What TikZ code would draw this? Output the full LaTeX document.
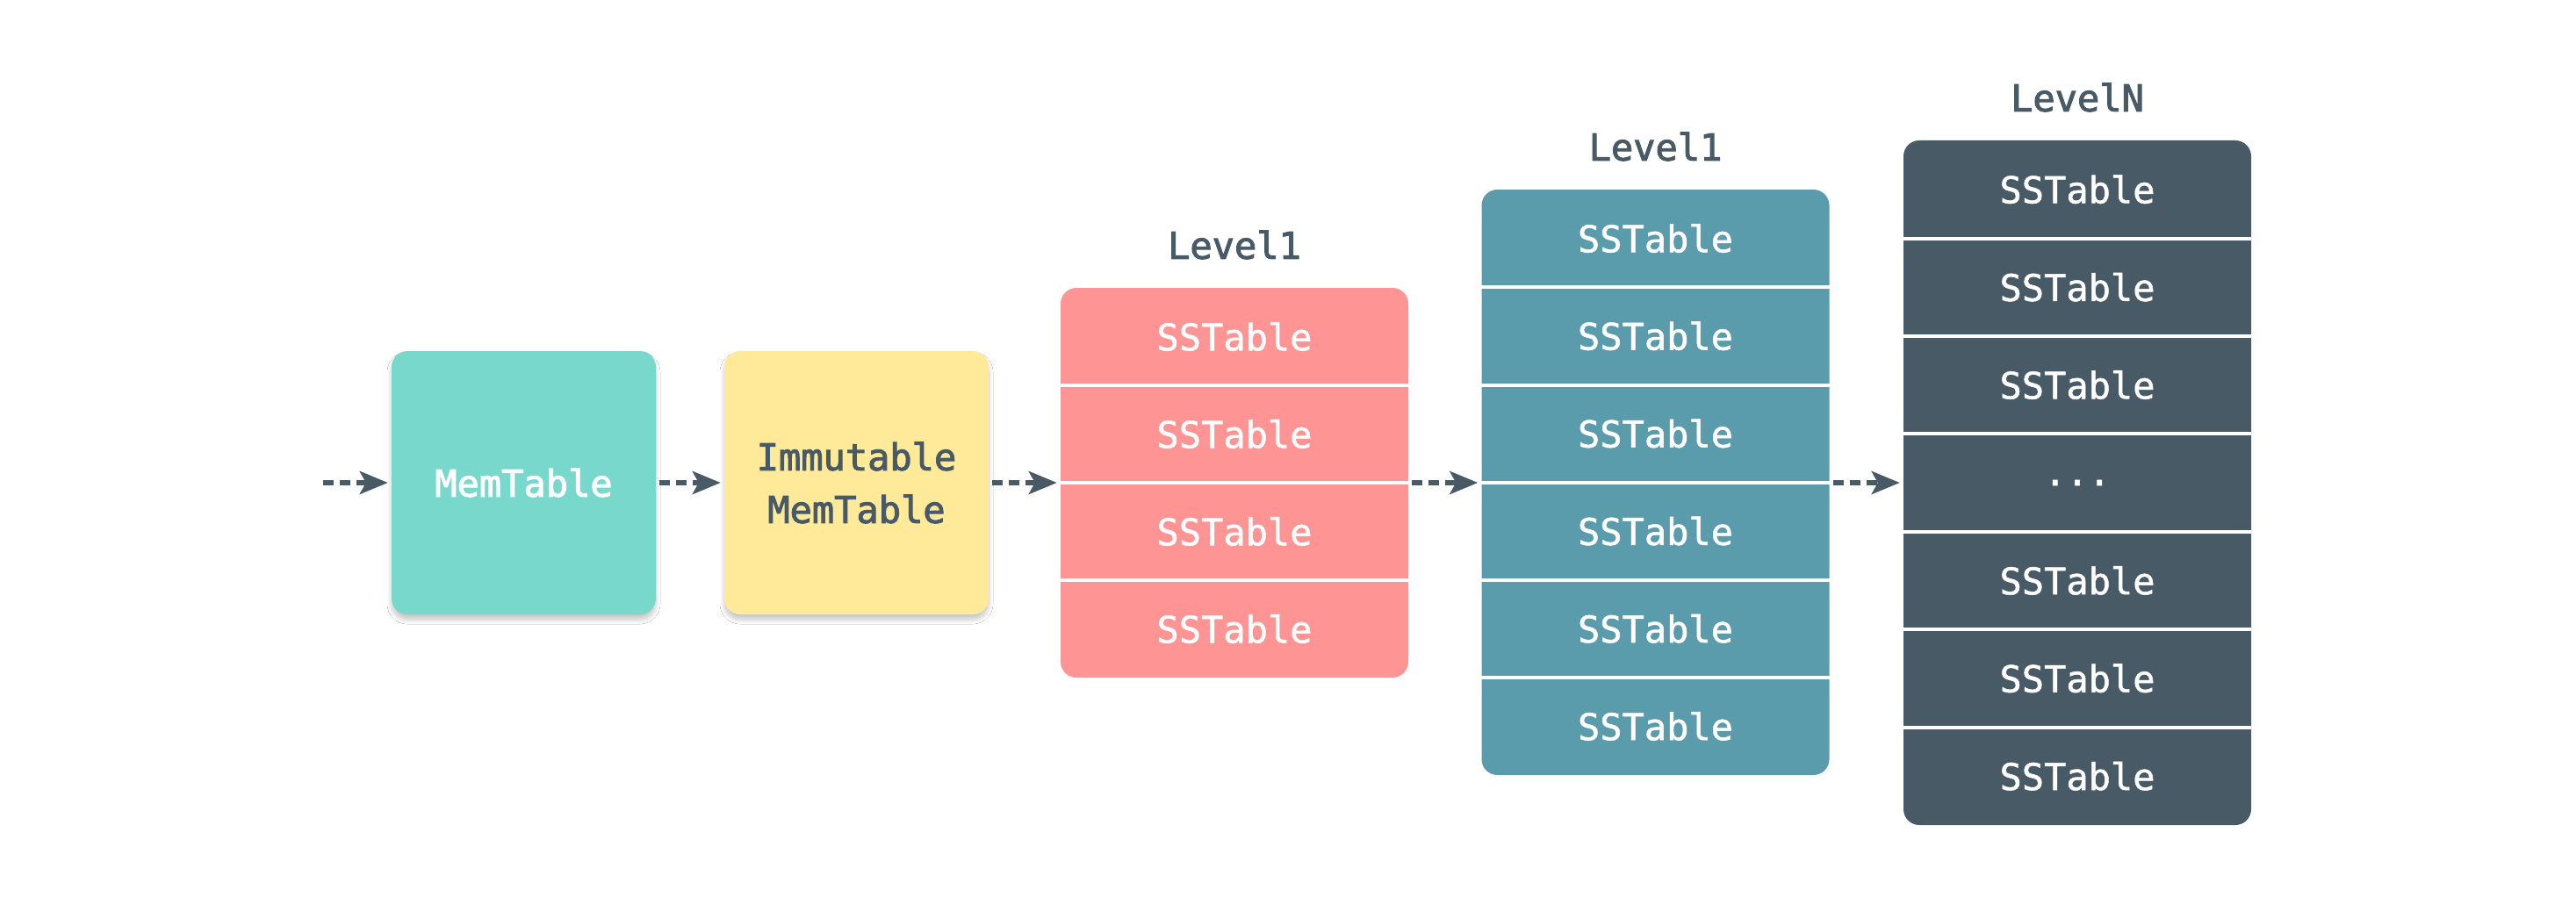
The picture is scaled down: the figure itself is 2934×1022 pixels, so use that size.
\documentclass[tikz,border=0pt]{standalone}
\usepackage{fontspec}
\setmonofont{DejaVu Sans Mono}
\newfontfamily\medmono[FakeBold=1.2]{DejaVu Sans Mono}
\newfontfamily\semimono[FakeBold=2.4]{DejaVu Sans Mono}
\usetikzlibrary{arrows.meta,shadows.blur}
\definecolor{mint}{HTML}{79D8CC}
\definecolor{butter}{HTML}{FFEA9A}
\definecolor{salmon}{HTML}{FF9494}
\definecolor{tealc}{HTML}{5B9CAC}
\definecolor{slate}{HTML}{475A65}
\newcommand{\myellip}{...}
\tikzset{
  card/.style={rectangle, rounded corners=18pt, inner sep=0pt,
    minimum width=301pt, minimum height=300pt,
    blur shadow={shadow xshift=0pt, shadow yshift=-6pt, shadow blur radius=5pt, shadow blur steps=10, shadow opacity=22},
    font=\semimono\fontsize{42pt}{60pt}\selectfont, align=center},
  stack/.style={rectangle, rounded corners=18pt, inner sep=0pt, minimum width=396pt},
  rowbox/.style={rectangle, inner sep=0pt, minimum width=396pt, text=white,
    font=\medmono\fontsize{42pt}{50pt}\selectfont},
  lvl/.style={anchor=base, text=slate, font=\semimono\fontsize{42pt}{50pt}\selectfont},
  sep/.style={white, line width=4pt},
  flow/.style={draw=slate, line width=5.5pt, dash pattern=on 12pt off 7pt,
    -{Stealth[length=32pt, width=26pt, inset=7pt]}, shorten >=4pt, shorten <=4pt}
}
\begin{document}
\begin{tikzpicture}[x=1pt,y=-1pt]
\useasboundingbox (0,0) rectangle (2934,1022);
\fill[white] (0,0) rectangle (2934,1022);

% memtables
\node[card, fill=mint, text=white] (mem) at (596.5,550) {MemTable};
\node[card, fill=butter, text=slate] (imm) at (975.5,550) {Immutable\\MemTable};

% stacks
\node[stack, fill=salmon, minimum height=444pt] (red) at (1406,550) {};
\node[stack, fill=tealc, minimum height=667pt] (teal) at (1885.5,549.5) {};
\node[stack, fill=slate, minimum height=780pt] (dark) at (2366,550) {};

\foreach \i in {1,...,4}
  \node[rowbox, minimum height=111pt] (r\i) at (1406,{328+111*(\i-0.5)}) {SSTable};
\foreach \i in {1,...,6}
  \node[rowbox, minimum height=111.17pt] (t\i) at (1885.5,{216+111.17*(\i-0.5)}) {SSTable};
\foreach \i/\t in {1/SSTable,2/SSTable,3/SSTable,4/\myellip,5/SSTable,6/SSTable,7/SSTable}
  \node[rowbox, minimum height=111.43pt] (d\i) at (2366,{160+111.43*(\i-0.5)}) {\t};

\foreach \i in {1,...,3}
  \draw[sep] (r\i.south west) -- (r\i.south east);
\foreach \i in {1,...,5}
  \draw[sep] (t\i.south west) -- (t\i.south east);
\foreach \i in {1,...,6}
  \draw[sep] (d\i.south west) -- (d\i.south east);

% labels
\node[lvl] (lab1) at ([yshift=33pt]red.north) {Level1};
\node[lvl] (lab2) at ([yshift=33pt]teal.north) {Level1};
\node[lvl] (labn) at ([yshift=33pt]dark.north) {LevelN};

% arrows
\coordinate (start) at (368,550);
\draw[flow, shorten <=0pt] (start) -- (mem.west);
\draw[flow] (mem.east) -- (imm.west);
\draw[flow] (imm.east) -- (red.west);
\draw[flow] (red.east) -- (teal.west |- red.east);
\draw[flow] (teal.east |- red.east) -- (dark.west);
\end{tikzpicture}
\end{document}
